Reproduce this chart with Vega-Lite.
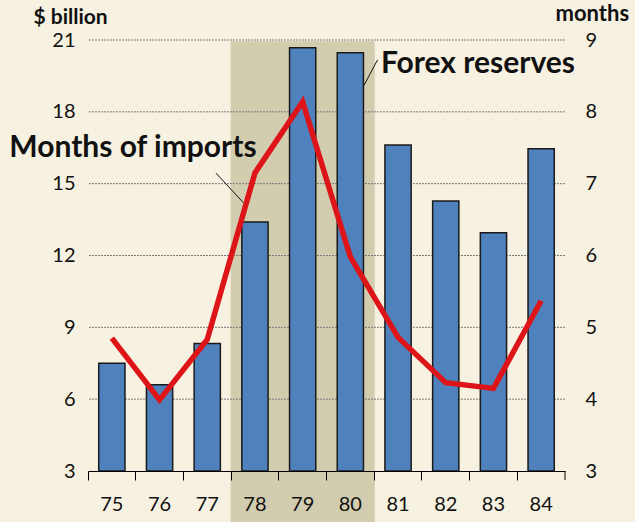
{
  "$schema": "https://vega.github.io/schema/vega-lite/v6.json",
  "width": 477,
  "height": 431,
  "autosize": "none",
  "padding": {"left": 88, "top": 40, "right": 70, "bottom": 51},
  "background": "#F7F1E1",
  "config": {"view": {"stroke": null}, "font": "Lato"},
  "datasets": {
    "main": [
      {"year": "75", "reserves": 7.5, "months": 4.85},
      {"year": "76", "reserves": 6.6, "months": 3.99},
      {"year": "77", "reserves": 8.33, "months": 4.83},
      {"year": "78", "reserves": 13.4, "months": 7.15},
      {"year": "79", "reserves": 20.68, "months": 8.14},
      {"year": "80", "reserves": 20.47, "months": 5.98},
      {"year": "81", "reserves": 16.62, "months": 4.86},
      {"year": "82", "reserves": 14.28, "months": 4.23},
      {"year": "83", "reserves": 12.95, "months": 4.15},
      {"year": "84", "reserves": 16.46, "months": 5.37}
    ],
    "shade": [{"year": "78"}, {"year": "79"}, {"year": "80"}],
    "grid": [{"v": 6}, {"v": 9}, {"v": 12}, {"v": 15}, {"v": 18}, {"v": 21}]
  },
  "layer": [
    {
      "layer": [
        {
          "data": {"name": "shade"},
          "mark": {"type": "bar", "color": "#D3CDB0", "stroke": "#D3CDB0", "strokeWidth": 1},
          "encoding": {
            "x": {
              "field": "year", "type": "ordinal",
              "scale": {"domain": ["75","76","77","78","79","80","81","82","83","84"], "paddingInner": 0, "paddingOuter": 0},
              "axis": {"title": null, "zindex": 2, "domain": true, "domainColor": "#000", "domainWidth": 1, "ticks": true, "tickColor": "#000", "tickSize": 9, "tickWidth": 1, "bandPosition": 0, "labelFontSize": 20, "labelColor": "#111", "labelPadding": 14, "labelAngle": 0, "grid": false}
            },
            "y": {
              "datum": 20.93, "type": "quantitative",
              "scale": {"domain": [3, 21], "nice": false, "zero": false},
              "title": "$ billion",
              "axis": {"titleAngle": 0, "titleAlign": "left", "titleBaseline": "alphabetic", "titleX": -55, "titleY": -17, "titleFontSize": 21, "titleFontWeight": "bold", "titleColor": "#111", "labelFontSize": 20, "labelColor": "#111", "labelPadding": 13, "domain": false, "ticks": false, "grid": false, "values": [3, 6, 9, 12, 15, 18, 21]}
            },
            "y2": {"datum": 0.8}
          }
        },
        {
          "data": {"name": "grid"},
          "mark": {"type": "rule", "color": "#7A7A7A", "strokeDash": [2, 1], "strokeWidth": 1},
          "encoding": {"y": {"field": "v", "type": "quantitative", "title": "$ billion"}}
        },
        {
          "data": {"name": "main"},
          "mark": {"type": "bar", "color": "#4F81BD", "stroke": "#1A1A1A", "strokeWidth": 1.5, "width": {"band": 0.55}},
          "encoding": {
            "x": {"field": "year", "type": "ordinal"},
            "y": {"field": "reserves", "type": "quantitative", "title": "$ billion"},
            "y2": {"datum": 3}
          }
        },
        {
          "data": {"values": [{}]},
          "mark": {"type": "rule", "color": "#000", "strokeWidth": 1},
          "encoding": {
            "x": {"datum": "84", "type": "ordinal", "bandPosition": 1},
            "y": {"datum": 3, "type": "quantitative", "title": "$ billion"},
            "y2": {"datum": 2.62}
          }
        }
      ]
    },
    {
      "data": {"name": "main"},
      "mark": {"type": "line", "color": "#DD1418", "strokeWidth": 5.5},
      "encoding": {
        "x": {
          "field": "year", "type": "ordinal",
          "scale": {"domain": ["75","76","77","78","79","80","81","82","83","84"], "paddingInner": 0, "paddingOuter": 0},
          "axis": null
        },
        "y": {
          "field": "months", "type": "quantitative",
          "scale": {"domain": [3, 9], "nice": false, "zero": false},
          "title": "months",
          "axis": {"orient": "right", "titleAngle": 0, "titleAlign": "left", "titleBaseline": "alphabetic", "titleX": -10, "titleY": -20, "titleFontSize": 22, "titleFontWeight": "bold", "titleColor": "#111", "labelFontSize": 20, "labelColor": "#111", "labelPadding": 20, "domain": false, "ticks": false, "grid": false, "values": [3, 4, 5, 6, 7, 8, 9]}
        }
      }
    },
    {
      "data": {"values": [{}]},
      "layer": [
        {
          "mark": {"type": "text", "text": "Months of imports", "fontSize": 30, "fontWeight": "bold", "color": "#111", "align": "center", "baseline": "alphabetic"},
          "encoding": {
            "x": {"datum": 0.943, "type": "quantitative", "scale": {"domain": [0, 10], "nice": false, "zero": false}, "axis": null},
            "y": {"datum": 16.13, "type": "quantitative", "scale": {"domain": [3, 21], "nice": false, "zero": false}, "axis": null}
          }
        },
        {
          "mark": {"type": "text", "text": "Forex reserves", "fontSize": 30, "fontWeight": "bold", "color": "#111", "align": "center", "baseline": "alphabetic"},
          "encoding": {
            "x": {"datum": 8.176, "type": "quantitative"},
            "y": {"datum": 19.64, "type": "quantitative"}
          }
        },
        {
          "mark": {"type": "rule", "color": "#111", "strokeWidth": 1},
          "encoding": {
            "x": {"datum": 2.683, "type": "quantitative"},
            "y": {"datum": 15.44, "type": "quantitative"},
            "x2": {"datum": 3.256},
            "y2": {"datum": 14.21}
          }
        },
        {
          "mark": {"type": "rule", "color": "#111", "strokeWidth": 1},
          "encoding": {
            "x": {"datum": 5.79, "type": "quantitative"},
            "y": {"datum": 19.12, "type": "quantitative"},
            "x2": {"datum": 6.07},
            "y2": {"datum": 20.17}
          }
        }
      ]
    }
  ],
  "resolve": {"scale": {"x": "independent", "y": "independent"}}
}
